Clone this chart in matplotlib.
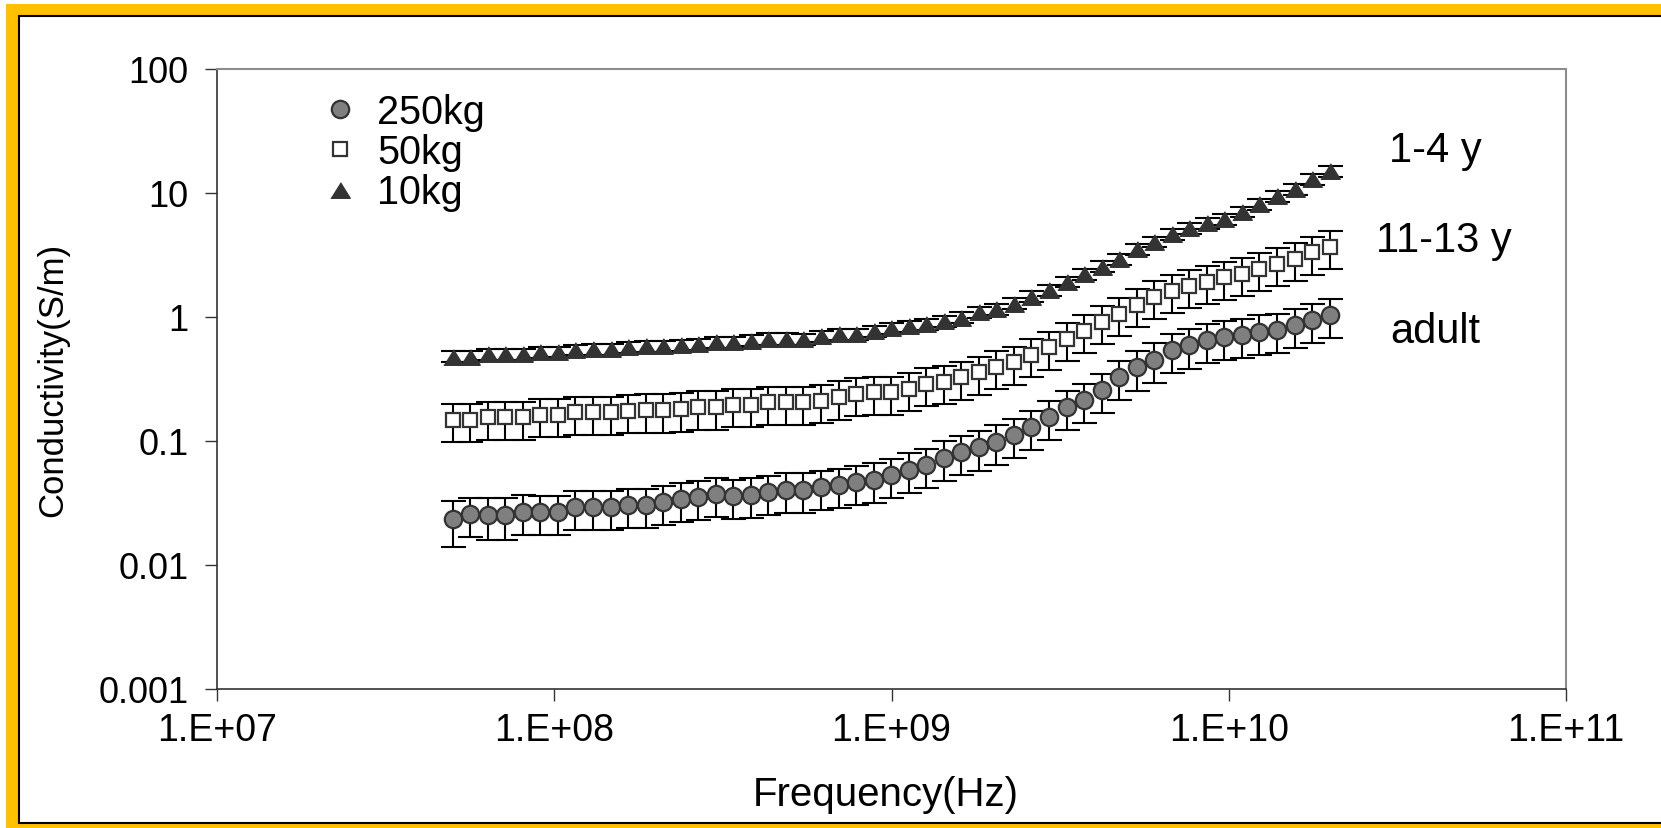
import matplotlib
matplotlib.use('Agg')
import matplotlib.pyplot as plt
from matplotlib.patches import Rectangle
from matplotlib.ticker import FixedLocator, NullLocator

plt.rcParams['font.family'] = ['Liberation Sans', 'DejaVu Sans']

# frequency sweep (Hz)
freq = [5.00e7, 5.64e7, 6.35e7, 7.16e7, 8.07e7, 9.10e7, 1.026e8, 1.156e8, 1.303e8, 1.469e8,
        1.656e8, 1.866e8, 2.104e8, 2.371e8, 2.673e8, 3.013e8, 3.396e8, 3.828e8, 4.315e8, 4.864e8,
        5.483e8, 6.180e8, 6.966e8, 7.852e8, 8.851e8, 9.977e8, 1.125e9, 1.268e9, 1.429e9, 1.611e9,
        1.816e9, 2.046e9, 2.307e9, 2.600e9, 2.931e9, 3.304e9, 3.724e9, 4.198e9, 4.732e9, 5.333e9,
        6.012e9, 6.776e9, 7.638e9, 8.610e9, 9.705e9, 1.094e10, 1.233e10, 1.390e10, 1.567e10, 1.766e10,
        1.991e10]

# 250kg (adult)
sig_250 = [0.0235, 0.0258, 0.0253, 0.0253, 0.0269, 0.0266, 0.0266, 0.0292, 0.0292, 0.0292,
           0.0305, 0.0305, 0.0324, 0.0341, 0.0352, 0.0374, 0.0358, 0.0370, 0.0386, 0.0405,
           0.0405, 0.0428, 0.0442, 0.0464, 0.0488, 0.0532, 0.0588, 0.0640, 0.0734, 0.0820,
           0.0889, 0.0988, 0.112, 0.129, 0.155, 0.187, 0.215, 0.259, 0.327, 0.393,
           0.453, 0.545, 0.594, 0.653, 0.686, 0.716, 0.761, 0.785, 0.867, 0.946,
           1.04]
err_250 = [0.0095, 0.009, 0.0095, 0.0095, 0.0095, 0.0093, 0.0093, 0.0102, 0.0102, 0.0102,
           0.0107, 0.0107, 0.0113, 0.0119, 0.0123, 0.0131, 0.0125, 0.013, 0.0135, 0.0142,
           0.0142, 0.015, 0.0155, 0.0162, 0.0171, 0.0186, 0.0206, 0.0224, 0.0257, 0.0287,
           0.0311, 0.0346, 0.039, 0.045, 0.054, 0.065, 0.075, 0.091, 0.114, 0.138,
           0.159, 0.19, 0.21, 0.23, 0.24, 0.25, 0.27, 0.27, 0.30, 0.33,
           0.36]

# 50kg (11-13 y)
sig_50 = [0.149, 0.149, 0.155, 0.155, 0.155, 0.162, 0.162, 0.170, 0.170, 0.170,
          0.175, 0.178, 0.178, 0.181, 0.187, 0.187, 0.195, 0.196, 0.205, 0.205,
          0.205, 0.211, 0.225, 0.239, 0.247, 0.247, 0.262, 0.288, 0.301, 0.326,
          0.358, 0.397, 0.431, 0.494, 0.569, 0.665, 0.776, 0.917, 1.06, 1.26,
          1.46, 1.63, 1.79, 1.93, 2.09, 2.22, 2.44, 2.68, 2.94, 3.32,
          3.69]
err_50 = [0.051, 0.051, 0.053, 0.053, 0.053, 0.055, 0.055, 0.058, 0.058, 0.058,
          0.060, 0.061, 0.061, 0.062, 0.064, 0.064, 0.066, 0.067, 0.070, 0.070,
          0.070, 0.072, 0.077, 0.081, 0.084, 0.084, 0.089, 0.098, 0.102, 0.111,
          0.122, 0.135, 0.147, 0.168, 0.193, 0.226, 0.264, 0.312, 0.36, 0.43,
          0.50, 0.55, 0.61, 0.66, 0.71, 0.75, 0.83, 0.91, 1.0, 1.13,
          1.25]

# 10kg (1-4 y)
sig_10 = [0.48, 0.48, 0.50, 0.50, 0.50, 0.52, 0.525, 0.545, 0.55, 0.55,
          0.57, 0.58, 0.58, 0.59, 0.605, 0.625, 0.63, 0.645, 0.67, 0.67,
          0.665, 0.70, 0.725, 0.73, 0.77, 0.81, 0.84, 0.88, 0.93, 0.99,
          1.09, 1.16, 1.28, 1.46, 1.65, 1.93, 2.22, 2.55, 2.94, 3.53,
          4.05, 4.66, 5.19, 5.70, 6.17, 7.07, 8.14, 9.40, 10.8, 13.0,
          15.0]
err_10 = [0.05, 0.05, 0.05, 0.05, 0.05, 0.05, 0.05, 0.055, 0.055, 0.055,
          0.06, 0.06, 0.06, 0.06, 0.06, 0.065, 0.065, 0.065, 0.07, 0.07,
          0.07, 0.07, 0.075, 0.075, 0.08, 0.08, 0.085, 0.09, 0.095, 0.1,
          0.11, 0.12, 0.13, 0.15, 0.17, 0.19, 0.22, 0.26, 0.29, 0.35,
          0.4, 0.47, 0.52, 0.57, 0.62, 0.71, 0.81, 0.94, 1.1, 1.3,
          1.5]

x_ticks = [1e7, 1e8, 1e9, 1e10, 1e11]
x_labels = ['1.E+07', '1.E+08', '1.E+09', '1.E+10', '1.E+11']
y_ticks = [0.001, 0.01, 0.1, 1, 10, 100]
y_labels = ['0.001', '0.01', '0.1', '1', '10', '100']

W, H = 1661, 829
fig = plt.figure(figsize=(W / 100, H / 100), dpi=100)

# gold frame around the slide
fig.add_artist(Rectangle((6 / W, 0), 1, (H - 5) / H, transform=fig.transFigure,
                         facecolor='#FFC000', edgecolor='none', zorder=-3))
fig.add_artist(Rectangle((19 / W, (H - 824) / H), 1, (824 - 17) / H, transform=fig.transFigure,
                         facecolor='white', edgecolor='black', linewidth=1.5, zorder=-2))

ax = fig.add_axes([217 / W, (H - 690) / H, (1566 - 217) / W, (690 - 70) / H])
ax.set_facecolor('none')
ax.set_xscale('log')
ax.set_yscale('log')
ax.set_xlim(1e7, 1e11)
ax.set_ylim(0.001, 100)

tri = [(-1, -0.8), (1, -0.8), (0, 0.8)]
eb = dict(fmt='none', ecolor='black', elinewidth=1.5, capsize=9, capthick=1.5, zorder=2)
ax.errorbar(freq, sig_250, yerr=err_250, **eb)
ax.errorbar(freq, sig_50, yerr=err_50, **eb)
ax.errorbar(freq, sig_10, yerr=err_10, **eb)
ax.plot(freq, sig_250, ls='none', marker='o', ms=12.5, mfc='#7f7f7f', mec='#333333',
        mew=1.6, label='250kg', zorder=3)
ax.plot(freq, sig_50, ls='none', marker='s', ms=10.5, mfc='white', mec='#333333',
        mew=1.6, label='50kg', zorder=3)
ax.plot(freq, sig_10, ls='none', marker=tri, ms=14, mfc='#333333', mec='#333333',
        mew=1, label='10kg', zorder=3)

ax.xaxis.set_major_locator(FixedLocator(x_ticks))
ax.xaxis.set_minor_locator(NullLocator())
ax.set_xticklabels(x_labels)
ax.yaxis.set_major_locator(FixedLocator(y_ticks))
ax.yaxis.set_minor_locator(NullLocator())
ax.set_yticklabels(y_labels)
ax.tick_params(axis='both', direction='out', length=8.6, width=1, color='#333333')
ax.tick_params(axis='x', pad=8, labelsize=27)
ax.tick_params(axis='y', pad=12, labelsize=26)

for s in ['left', 'bottom']:
    ax.spines[s].set_color('#333333')
    ax.spines[s].set_linewidth(1.2)
for s in ['top', 'right']:
    ax.spines[s].set_color('#8c8c8c')
    ax.spines[s].set_linewidth(1.5)

ax.set_xlabel('Frequency(Hz)', fontsize=29, va='center')
ax.xaxis.set_label_coords(0.496, -0.169)
ax.set_ylabel('Conductivity(S/m)', fontsize=25, va='center')
ax.yaxis.set_label_coords(-0.1216, 0.5)

ax.text(4.1e10, 22.2, '1-4 y', fontsize=30, ha='center', va='center')
ax.text(4.35e10, 4.18, '11-13 y', fontsize=30, ha='center', va='center')
ax.text(4.1e10, 0.77, 'adult', fontsize=30, ha='center', va='center')

ax.legend(loc='upper left', bbox_to_anchor=(0.0764, 0.9617), frameon=False, fontsize=28.5,
          borderpad=0, borderaxespad=0, handlelength=1.0, handletextpad=0.45,
          labelspacing=0.06, numpoints=1)

fig.savefig('out.png', dpi=100)
